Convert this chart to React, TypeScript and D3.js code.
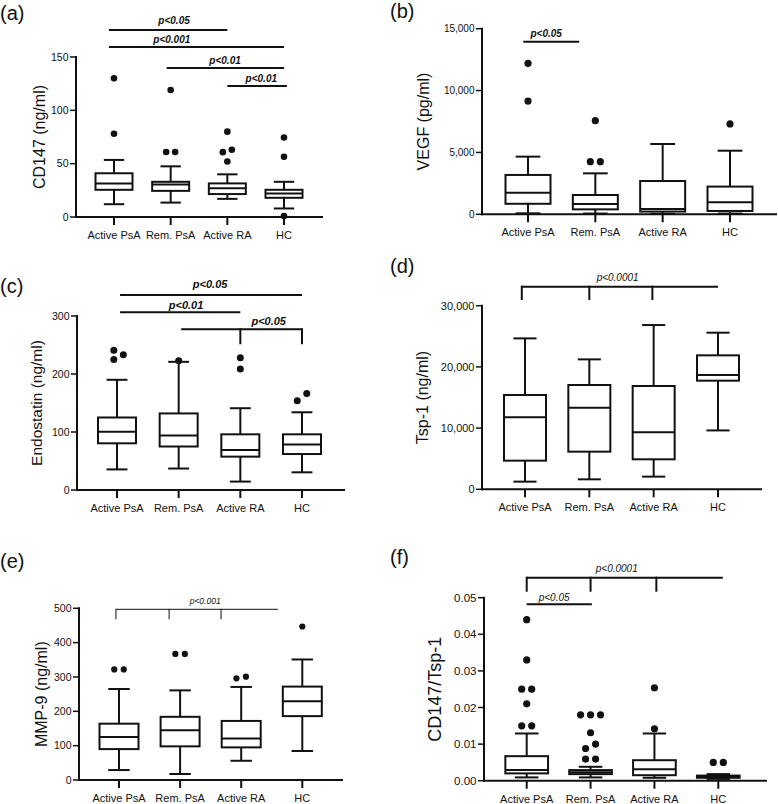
import React, { useEffect } from "react";
import * as d3 from "d3";

const FONT = '"Liberation Sans", Arial, Helvetica, sans-serif';
const INK = "#111";

const categories = ["Active PsA", "Rem. PsA", "Active RA", "HC"];

// (a) CD147 (ng/ml)
const cd147Low = [12, 13.5, 17, 8];
const cd147Q1 = [25.5, 24.5, 21.5, 18];
const cd147Median = [31.5, 30.5, 27, 22];
const cd147Q3 = [41, 33, 31.5, 25.5];
const cd147High = [53.5, 47.5, 40, 33];
const cd147Outliers = [[78, 130], [61, 61, 119], [52, 60.8, 63, 80], [1, 56.5, 74.5]];
const cd147Ticks = [0, 50, 100, 150];

// (b) VEGF (pg/ml)
const vegfLow = [80, 60, 40, 60];
const vegfQ1 = [850, 400, 220, 270];
const vegfMedian = [1750, 830, 430, 970];
const vegfQ3 = [3180, 1560, 2690, 2240];
const vegfHigh = [4660, 3310, 5680, 5140];
const vegfOutliers = [[9150, 12200], [4250, 4250, 7570], [], [7300]];
const vegfTicks = [0, 5000, 10000, 15000];

// (c) Endostatin (ng/ml)
const endoLow = [35.5, 37, 14.5, 30.5];
const endoQ1 = [80.5, 75, 57.5, 62];
const endoMedian = [100.5, 94, 69, 78.5];
const endoQ3 = [125, 132, 96, 96];
const endoHigh = [190, 221, 141, 134];
const endoOutliers = [[225, 233, 241], [223], [208.5, 228], [154, 166.5]];
const endoTicks = [0, 100, 200, 300];

// (d) Tsp-1 (ng/ml)
const tspLow = [1250, 1630, 2070, 9620];
const tspQ1 = [4680, 6150, 4900, 17750];
const tspMedian = [11760, 13340, 9310, 18680];
const tspQ3 = [15410, 17040, 16880, 21890];
const tspHigh = [24660, 21230, 26840, 25590];
const tspOutliers: number[][] = [[], [], [], []];
const tspTicks = [0, 10000, 20000, 30000];

// (e) MMP-9 (ng/ml)
const mmpLow = [29, 17.5, 56, 84.5];
const mmpQ1 = [90, 98, 95, 186];
const mmpMedian = [125, 145, 121, 229];
const mmpQ3 = [164, 184, 172, 272];
const mmpHigh = [265, 261, 271, 351];
const mmpOutliers = [[322, 322], [367, 367], [296, 301], [447]];
const mmpTicks = [0, 100, 200, 300, 400, 500];

// (f) CD147/Tsp-1
const ratioLow = [0.0009, 0.0009, 0.0008, 0.0005];
const ratioQ1 = [0.002, 0.0018, 0.0015, 0.0008];
const ratioMedian = [0.0029, 0.0023, 0.0031, 0.0011];
const ratioQ3 = [0.0067, 0.0029, 0.0056, 0.0014];
const ratioHigh = [0.0129, 0.0038, 0.0129, 0.0018];
const ratioOutliers = [
  [0.015, 0.015, 0.021, 0.025, 0.025, 0.033, 0.044],
  [0.0059, 0.0059, 0.0088, 0.01, 0.0131, 0.018, 0.018, 0.018],
  [0.0142, 0.0254],
  [0.005, 0.005],
];
const ratioTicks = [0, 0.01, 0.02, 0.03, 0.04, 0.05];

type Sig = {
  label: string; from: number; to: number; y: number; drops?: number[]; dropLen?: number;
  labelAt: number; dy: number; size: number; weight: string; sw: number;
};

type Layout = {
  tag: string; tagX: number; tagY: number; title: string; titleX: number; titleSize: number;
  axisX: number; axisEnd: number; yTop: number; yBottom: number; c0: number; c3: number;
  boxW: number; tickSize: number; fmt: string; r: number; gap: number; sigs: Sig[];
};

function makeStats(low: number[], q1: number[], med: number[], q3: number[], high: number[], out: number[][]) {
  return categories.map((c, i) => ({ cat: c, low: low[i], q1: q1[i], med: med[i], q3: q3[i], high: high[i], out: out[i] }));
}

function dodge(vals: number[], y: (v: number) => number, r: number, gap: number) {
  const order = vals.map((v, i) => i).sort((a, b) => vals[a] - vals[b]);
  const minD = 2 * r + 0.5;
  const placed: { i: number; px: number; py: number }[] = [];
  const off: number[] = vals.map(() => 0);
  order.forEach((i) => {
    const py = y(vals[i]);
    const ks = [0, 1, -1, 2, -2, 3, -3];
    for (const k of ks) {
      const px = k * gap;
      const hit = placed.some((p) => Math.hypot(p.px - px, p.py - py) < minD);
      if (!hit) { placed.push({ i, px, py }); off[i] = px; break; }
    }
  });
  // center clusters
  let cluster: number[] = [];
  const flush = () => {
    if (cluster.length > 1) {
      const m = d3.mean(cluster, (i) => off[i]) as number;
      cluster.forEach((i) => (off[i] -= m));
    }
    cluster = [];
  };
  order.forEach((i, k) => {
    if (k > 0 && Math.abs(y(vals[i]) - y(vals[order[k - 1]])) >= minD) flush();
    cluster.push(i);
  });
  flush();
  return off;
}

function Panel({ L, stats, ticks }: { L: Layout; stats: ReturnType<typeof makeStats>; ticks: number[] }) {
  const y = d3.scaleLinear().domain([ticks[0], ticks[ticks.length - 1]]).range([L.yBottom, L.yTop]);
  const x = d3.scalePoint<string>().domain(categories).range([L.c0, L.c3]);
  const step = x.step();
  const fx = (t: number) => L.c0 + t * step;
  const fmt = d3.format(L.fmt);
  const capW = L.boxW * 0.55;
  const tickLen = 6;
  return (
    <g>
      <text x={L.tagX} y={L.tagY} fontSize={20} fontFamily={FONT} fill={INK}>{L.tag}</text>
      <text
        transform={`translate(${L.titleX},${(L.yTop + L.yBottom) / 2}) rotate(-90)`}
        textAnchor="middle" fontSize={L.titleSize} fontFamily={FONT} fill={INK}
      >{L.title}</text>
      {stats.map((s) => {
        const cx = x(s.cat) as number;
        const offs = dodge(s.out, y, L.r, L.gap);
        return (
          <g key={s.cat}>
            <line x1={cx} x2={cx} y1={y(s.low)} y2={y(s.q1)} stroke={INK} strokeWidth={2} />
            <line x1={cx} x2={cx} y1={y(s.q3)} y2={y(s.high)} stroke={INK} strokeWidth={2} />
            <line x1={cx - capW / 2} x2={cx + capW / 2} y1={y(s.low)} y2={y(s.low)} stroke={INK} strokeWidth={2} />
            <line x1={cx - capW / 2} x2={cx + capW / 2} y1={y(s.high)} y2={y(s.high)} stroke={INK} strokeWidth={2} />
            <rect x={cx - L.boxW / 2} y={y(s.q3)} width={L.boxW} height={Math.max(0.5, y(s.q1) - y(s.q3))}
              fill="#fff" stroke={INK} strokeWidth={2} />
            <line x1={cx - L.boxW / 2} x2={cx + L.boxW / 2} y1={y(s.med)} y2={y(s.med)} stroke={INK} strokeWidth={2} />
            {s.out.map((v, k) => (
              <circle key={k} cx={cx + offs[k]} cy={y(v)} r={L.r} fill={INK} />
            ))}
          </g>
        );
      })}
      {/* axes */}
      <line x1={L.axisX} x2={L.axisX} y1={L.yTop - 1} y2={L.yBottom + 1} stroke={INK} strokeWidth={2} />
      <line x1={L.axisX - 1} x2={L.axisEnd} y1={L.yBottom} y2={L.yBottom} stroke={INK} strokeWidth={2} />
      {ticks.map((t) => (
        <g key={t}>
          <line x1={L.axisX - tickLen} x2={L.axisX} y1={y(t)} y2={y(t)} stroke={INK} strokeWidth={1.5} />
          <text x={L.axisX - tickLen - 1.5} y={y(t)} dy="0.35em" textAnchor="end" fontSize={L.tickSize}
            fontFamily={FONT} fill={INK}>{fmt(t)}</text>
        </g>
      ))}
      {categories.map((c) => (
        <g key={c}>
          <line x1={x(c)} x2={x(c)} y1={L.yBottom} y2={L.yBottom + 8} stroke={INK} strokeWidth={2} />
          <text x={x(c)} y={L.yBottom + 22} textAnchor="middle" fontSize={11} fontFamily={FONT} fill={INK}>{c}</text>
        </g>
      ))}
      {L.sigs.map((g, k) => (
        <g key={k}>
          <line x1={fx(g.from)} x2={fx(g.to)} y1={g.y} y2={g.y} stroke={INK} strokeWidth={g.sw} />
          {(g.drops || []).map((d, j) => (
            <line key={j} x1={fx(d)} x2={fx(d)} y1={g.y - g.sw / 2} y2={g.y + (g.dropLen || 12)} stroke={INK} strokeWidth={g.sw} />
          ))}
          <text x={fx(g.labelAt)} y={g.y + g.dy} textAnchor="middle" fontSize={g.size} fontStyle="italic"
            fontWeight={g.weight} fontFamily={FONT} fill={INK}>{g.label}</text>
        </g>
      ))}
    </g>
  );
}

const layoutA: Layout = {
  tag: "(a)", tagX: 0, tagY: 20, title: "CD147 (ng/ml)", titleX: 45, titleSize: 16,
  axisX: 76, axisEnd: 323, yTop: 57, yBottom: 217, c0: 114, c3: 284, boxW: 37, tickSize: 10.5, fmt: "d",
  r: 3.3, gap: 9,
  sigs: [
    { label: "p<0.05", from: -0.09, to: 2, y: 30, labelAt: 1.06, dy: -6, size: 10, weight: "bold", sw: 2 },
    { label: "p<0.001", from: -0.09, to: 3, y: 47, labelAt: 1.02, dy: -4.5, size: 10, weight: "bold", sw: 2 },
    { label: "p<0.01", from: 0.93, to: 3, y: 68, labelAt: 1.96, dy: -4.5, size: 10, weight: "bold", sw: 2 },
    { label: "p<0.01", from: 2, to: 3.05, y: 86, labelAt: 2.6, dy: -4, size: 10, weight: "bold", sw: 2 },
  ],
};
const layoutB: Layout = {
  tag: "(b)", tagX: 390, tagY: 18, title: "VEGF (pg/ml)", titleX: 429, titleSize: 16,
  axisX: 482, axisEnd: 777, yTop: 28.7, yBottom: 214.3, c0: 528, c3: 730, boxW: 45, tickSize: 10, fmt: ",",
  r: 3.6, gap: 10,
  sigs: [{ label: "p<0.05", from: -0.07, to: 0.76, y: 41.7, labelAt: 0.27, dy: -4.5, size: 10, weight: "bold", sw: 2 }],
};
const layoutC: Layout = {
  tag: "(c)", tagX: 0, tagY: 293, title: "Endostatin (ng/ml)", titleX: 41.5, titleSize: 15.5,
  axisX: 77, axisEnd: 345, yTop: 316, yBottom: 490, c0: 117, c3: 302, boxW: 38, tickSize: 10.5, fmt: "d",
  r: 3.5, gap: 9.5,
  sigs: [
    { label: "p<0.05", from: 0.05, to: 3, y: 295, labelAt: 1.51, dy: -7, size: 11, weight: "bold", sw: 2 },
    { label: "p<0.01", from: 0.05, to: 2, y: 312.3, labelAt: 1.12, dy: -3.5, size: 11, weight: "bold", sw: 2 },
    { label: "p<0.05", from: 1.04, to: 3, y: 329.3, drops: [2, 3], dropLen: 15, labelAt: 2.46, dy: -4, size: 11, weight: "bold", sw: 2 },
  ],
};
const layoutD: Layout = {
  tag: "(d)", tagX: 390, tagY: 273, title: "Tsp-1 (ng/ml)", titleX: 428, titleSize: 16,
  axisX: 482, axisEnd: 762, yTop: 305.7, yBottom: 489.3, c0: 525, c3: 718, boxW: 42, tickSize: 11, fmt: ",",
  r: 3.5, gap: 9.5,
  sigs: [{ label: "p<0.0001", from: -0.05, to: 3, y: 286.7, drops: [-0.05, 1, 1.98], dropLen: 13.3, labelAt: 1.44, dy: -6, size: 10, weight: "normal", sw: 2 }],
};
const layoutE: Layout = {
  tag: "(e)", tagX: 0, tagY: 568, title: "MMP-9 (ng/ml)", titleX: 46.5, titleSize: 16,
  axisX: 79, axisEnd: 343, yTop: 608.3, yBottom: 780, c0: 119, c3: 302.3, boxW: 39, tickSize: 10.5, fmt: "d",
  r: 3.1, gap: 9.5,
  sigs: [{ label: "p<0.001", from: -0.05, to: 2.6, y: 609.3, drops: [-0.05, 0.82, 1.67], dropLen: 10, labelAt: 1.41, dy: -5, size: 8.5, weight: "normal", sw: 1 }],
};
const layoutF: Layout = {
  tag: "(f)", tagX: 390, tagY: 564, title: "CD147/Tsp-1", titleX: 441, titleSize: 18,
  axisX: 484, axisEnd: 767, yTop: 597.7, yBottom: 780.7, c0: 526.7, c3: 718.3, boxW: 42.7, tickSize: 11.5, fmt: ".2f",
  r: 3.6, gap: 10,
  sigs: [
    { label: "p<0.0001", from: 0, to: 3.07, y: 577.7, drops: [0, 1, 2.03], dropLen: 14, labelAt: 1.41, dy: -6, size: 10, weight: "normal", sw: 2 },
    { label: "p<0.05", from: 0, to: 1.02, y: 604.3, labelAt: 0.43, dy: -3.5, size: 10, weight: "normal", sw: 2 },
  ],
};

export default function App() {
  useEffect(() => {
    document.body.style.margin = "0";
  }, []);
  return (
    <svg width={778} height={804} viewBox="0 0 778 804"
      style={{ position: "absolute", left: 0, top: 0, background: "#fff" }}>
      <rect x={0} y={0} width={778} height={804} fill="#fff" />
      <Panel L={layoutA} ticks={cd147Ticks} stats={makeStats(cd147Low, cd147Q1, cd147Median, cd147Q3, cd147High, cd147Outliers)} />
      <Panel L={layoutB} ticks={vegfTicks} stats={makeStats(vegfLow, vegfQ1, vegfMedian, vegfQ3, vegfHigh, vegfOutliers)} />
      <Panel L={layoutC} ticks={endoTicks} stats={makeStats(endoLow, endoQ1, endoMedian, endoQ3, endoHigh, endoOutliers)} />
      <Panel L={layoutD} ticks={tspTicks} stats={makeStats(tspLow, tspQ1, tspMedian, tspQ3, tspHigh, tspOutliers)} />
      <Panel L={layoutE} ticks={mmpTicks} stats={makeStats(mmpLow, mmpQ1, mmpMedian, mmpQ3, mmpHigh, mmpOutliers)} />
      <Panel L={layoutF} ticks={ratioTicks} stats={makeStats(ratioLow, ratioQ1, ratioMedian, ratioQ3, ratioHigh, ratioOutliers)} />
    </svg>
  );
}
